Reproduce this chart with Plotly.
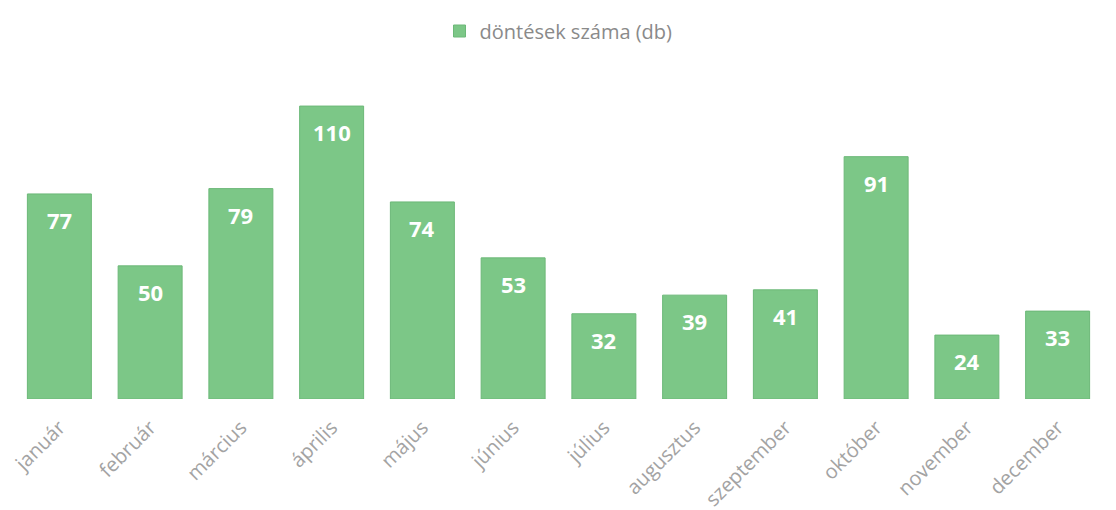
import plotly.graph_objects as go

months = ["január", "február", "március", "április", "május", "június",
          "július", "augusztus", "szeptember", "október", "november", "december"]
values = [77, 50, 79, 110, 74, 53, 32, 39, 41, 91, 24, 33]
series_name = "döntések száma (db)"

bar_color = "#7cc787"

fig = go.Figure()
fig.add_trace(go.Bar(
    x=months, y=values, name=series_name,
    marker=dict(color=bar_color, line=dict(color="#6cb878", width=1)),
    hoverinfo="x+y",
))

for m, v in zip(months, values):
    fig.add_annotation(x=m, y=v, yshift=-26, text=f"<b>{v}</b>", showarrow=False,
                       font=dict(family="Open Sans", size=22, color="white"))

fig.update_layout(
    width=1116, height=510,
    margin=dict(l=6, r=21, t=52, b=119, autoexpand=False),
    paper_bgcolor="white", plot_bgcolor="white",
    bargap=0.295,
    showlegend=True,
    legend=dict(orientation="h", x=0.5, xanchor="center", yref="container",
                y=1 - 23 / 510, yanchor="middle", itemwidth=30,
                font=dict(family="Open Sans", size=20, color="#8a8a8a")),
    xaxis=dict(tickangle=-45, tickfont=dict(family="Open Sans", size=20, color="#a3a3a3"),
               showline=False, showgrid=False, ticks="", automargin=False,
               ticklabelstandoff=12),
    yaxis=dict(range=[0, 127.3], visible=False, showgrid=False, automargin=False),
)
fig.write_html("out.html")
